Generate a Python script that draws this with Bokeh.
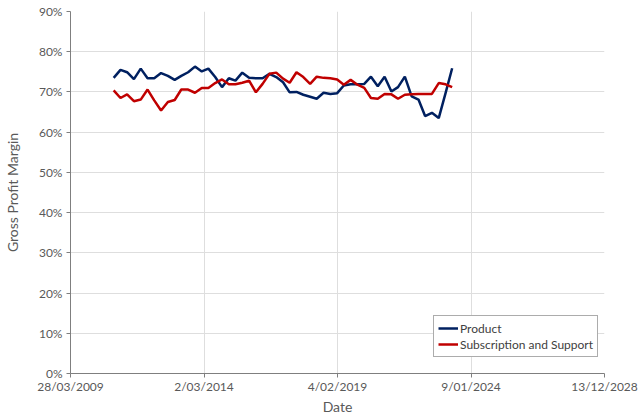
import datetime as dt
from bokeh.plotting import figure
from bokeh.models import ColumnDataSource, FixedTicker, NumeralTickFormatter, Range1d, Legend, LegendItem
from bokeh.embed import file_html
from bokeh.resources import INLINE

# Quarterly data, fiscal quarter ends from 31 Oct 2010 to 30 Apr 2023
start_year, start_month = 2010, 10
n_points = 51
product = [73.5, 75.5, 74.9, 73.2, 75.8, 73.4, 73.4, 74.7, 74.0, 73.0,
           74.0, 74.9, 76.3, 75.1, 75.8, 73.7, 71.2, 73.4, 72.8, 74.8,
           73.5, 73.4, 73.4, 74.5, 73.7, 72.4, 69.9, 70.0, 69.3, 68.8,
           68.3, 69.8, 69.5, 69.7, 71.6, 71.9, 71.9, 72.0, 73.8, 71.4,
           73.8, 70.1, 71.2, 73.8, 68.9, 68.1, 64.0, 64.8, 63.5, 69.7,
           75.9]
subscription = [70.4, 68.5, 69.4, 67.7, 68.1, 70.6, 67.9, 65.4, 67.5, 68.0,
                70.6, 70.6, 69.8, 71.0, 71.0, 72.2, 73.1, 71.9, 71.9, 72.3,
                72.8, 69.9, 72.0, 74.5, 74.8, 73.3, 72.3, 74.9, 73.7, 72.0,
                73.8, 73.5, 73.4, 73.1, 71.8, 73.0, 71.8, 71.0, 68.5, 68.3,
                69.5, 69.4, 68.3, 69.3, 69.4, 69.5, 69.5, 69.5, 72.2, 71.9,
                71.2]

tick_dates = [dt.datetime(2009, 3, 28), dt.datetime(2014, 3, 2), dt.datetime(2019, 2, 4),
              dt.datetime(2024, 1, 9), dt.datetime(2028, 12, 13)]
tick_labels = ["28/03/2009", "2/03/2014", "4/02/2019", "9/01/2024", "13/12/2028"]
y_ticks = [i / 10 for i in range(10)]


def month_end(y, m):
    if m == 12:
        return dt.datetime(y, 12, 31)
    return dt.datetime(y, m + 1, 1) - dt.timedelta(days=1)


dates = []
y, m = start_year, start_month
for _ in range(n_points):
    dates.append(month_end(y, m))
    m += 3
    if m > 12:
        m -= 12
        y += 1

source = ColumnDataSource(dict(date=dates,
                               product=[v / 100 for v in product],
                               subscription=[v / 100 for v in subscription]))

def ms(d):
    return (d - dt.datetime(1970, 1, 1)).total_seconds() * 1000

FONT = "Lato"
GREY = "#595959"

p = figure(width=640, height=418, x_axis_type="datetime", output_backend="svg",
           toolbar_location=None,
           x_range=Range1d(ms(tick_dates[0]), ms(tick_dates[-1])),
           y_range=Range1d(0, 0.9),
           min_border_left=69, min_border_right=36, min_border_top=11, min_border_bottom=45)
p.outline_line_color = None
p.background_fill_color = "white"

r1 = p.line("date", "product", source=source, line_color="#002060", line_width=2.5)
r2 = p.line("date", "subscription", source=source, line_color="#C00000", line_width=2.5)

p.xaxis.ticker = FixedTicker(ticks=[ms(d) for d in tick_dates])
p.xaxis.major_label_overrides = {ms(d): lab for d, lab in zip(tick_dates, tick_labels)}
p.yaxis.ticker = FixedTicker(ticks=y_ticks)
p.yaxis.formatter = NumeralTickFormatter(format="0%")

for ax in (p.xaxis[0], p.yaxis[0]):
    ax.axis_line_color = "#7f7f7f"
    ax.major_tick_line_color = "#7f7f7f"
    ax.major_tick_in = 0
    ax.major_tick_out = 4
    ax.minor_tick_line_color = None
    ax.major_label_text_font = FONT
    ax.major_label_text_font_size = "12px"
    ax.major_label_text_color = GREY
    ax.axis_label_text_font = FONT
    ax.axis_label_text_font_size = "14px"
    ax.axis_label_text_font_style = "normal"
    ax.axis_label_text_color = GREY

p.xaxis.axis_label = "Date"
p.yaxis.axis_label = "Gross Profit Margin"
p.xaxis.major_label_standoff = 1
p.xaxis.axis_label_standoff = 1
p.yaxis.major_label_standoff = 4
p.yaxis.axis_label_standoff = 15

p.xgrid.grid_line_color = "#dedede"
p.ygrid.grid_line_color = "#dedede"

legend = Legend(items=[LegendItem(label="Product", renderers=[r1]),
                       LegendItem(label="Subscription and Support", renderers=[r2])],
                location=(363, 16))
legend.border_line_color = GREY
legend.border_line_width = 1
legend.background_fill_alpha = 1
legend.label_text_font = FONT
legend.label_text_font_size = "12px"
legend.label_text_color = "#404040"
legend.padding = 4
legend.spacing = 0
legend.margin = 0
legend.glyph_width = 20
legend.glyph_height = 16
legend.label_height = 16
legend.label_standoff = 2
p.add_layout(legend, "center")

open("out.html", "w").write(file_html(p, INLINE))
